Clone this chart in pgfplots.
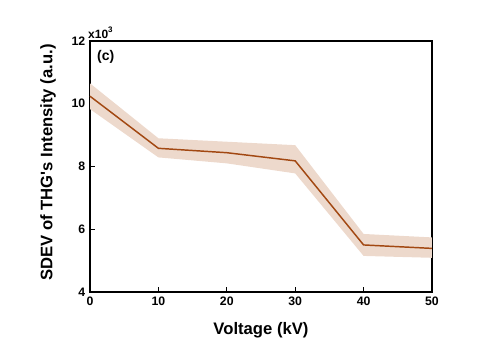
\documentclass[border=0pt]{standalone}
\usepackage{pgfplots}
\pgfplotsset{compat=1.18}
\usepackage{pgfplotstable}
\usepgfplotslibrary{fillbetween}
\usepackage{fontspec}
\setmainfont{Liberation Sans}
\definecolor{lineC}{HTML}{A24812}
\definecolor{bandC}{HTML}{EDD9CC}
\pgfplotstableread{
x y lo hi
0 10.24 9.83 10.65
10 8.58 8.29 8.90
20 8.44 8.10 8.79
30 8.18 7.78 8.68
40 5.50 5.15 5.85
50 5.39 5.09 5.74
}\datatab
\begin{document}
\begin{tikzpicture}
\begin{axis}[
  at={(0,0)}, anchor=south west,
  scale only axis,
  width=256.5pt, height=188.25pt,
  xmin=0, xmax=50, ymin=4, ymax=12,
  xtick={0,10,...,50}, ytick={4,6,...,12},
  tick align=inside,
  major tick length=4pt,
  axis line style={line width=1.1pt},
  tick style={line width=0.9pt, black},
  xtick pos=bottom, ytick pos=left,
  /pgf/number format/assume math mode=true,
  ticklabel style={font=\fontsize{9.2}{11}\selectfont\bfseries},
  xlabel={Voltage (kV)},
  ylabel={SDEV of THG\textquotesingle s Intensity (a.u.)},
  label style={font=\fontsize{12.5}{14}\selectfont\bfseries},
  xlabel style={yshift=-6pt},
  ylabel style={yshift=5pt, xshift=3pt},
  clip=false,
]
\addplot[name path=hi, draw=none, forget plot] table[x=x, y=hi] {\datatab};
\addplot[name path=lo, draw=none, forget plot] table[x=x, y=lo] {\datatab};
\addplot[bandC, forget plot] fill between[of=hi and lo];
\addplot[lineC, line width=1.1pt] table[x=x, y=y] {\datatab};
\node[anchor=south west, font=\fontsize{9}{10}\selectfont\bfseries, inner sep=1pt] at (rel axis cs:-0.01,1.005) {x10$^{\mathbf{3}}$};
\node[anchor=north west, font=\fontsize{10.5}{12}\selectfont\bfseries, inner sep=0pt] at (rel axis cs:0.02,0.965) {(c)};
\end{axis}
\pgfresetboundingbox
\path[use as bounding box] (-67.5pt,-44.25pt) rectangle (309.75pt,219pt);
\end{tikzpicture}
\end{document}
